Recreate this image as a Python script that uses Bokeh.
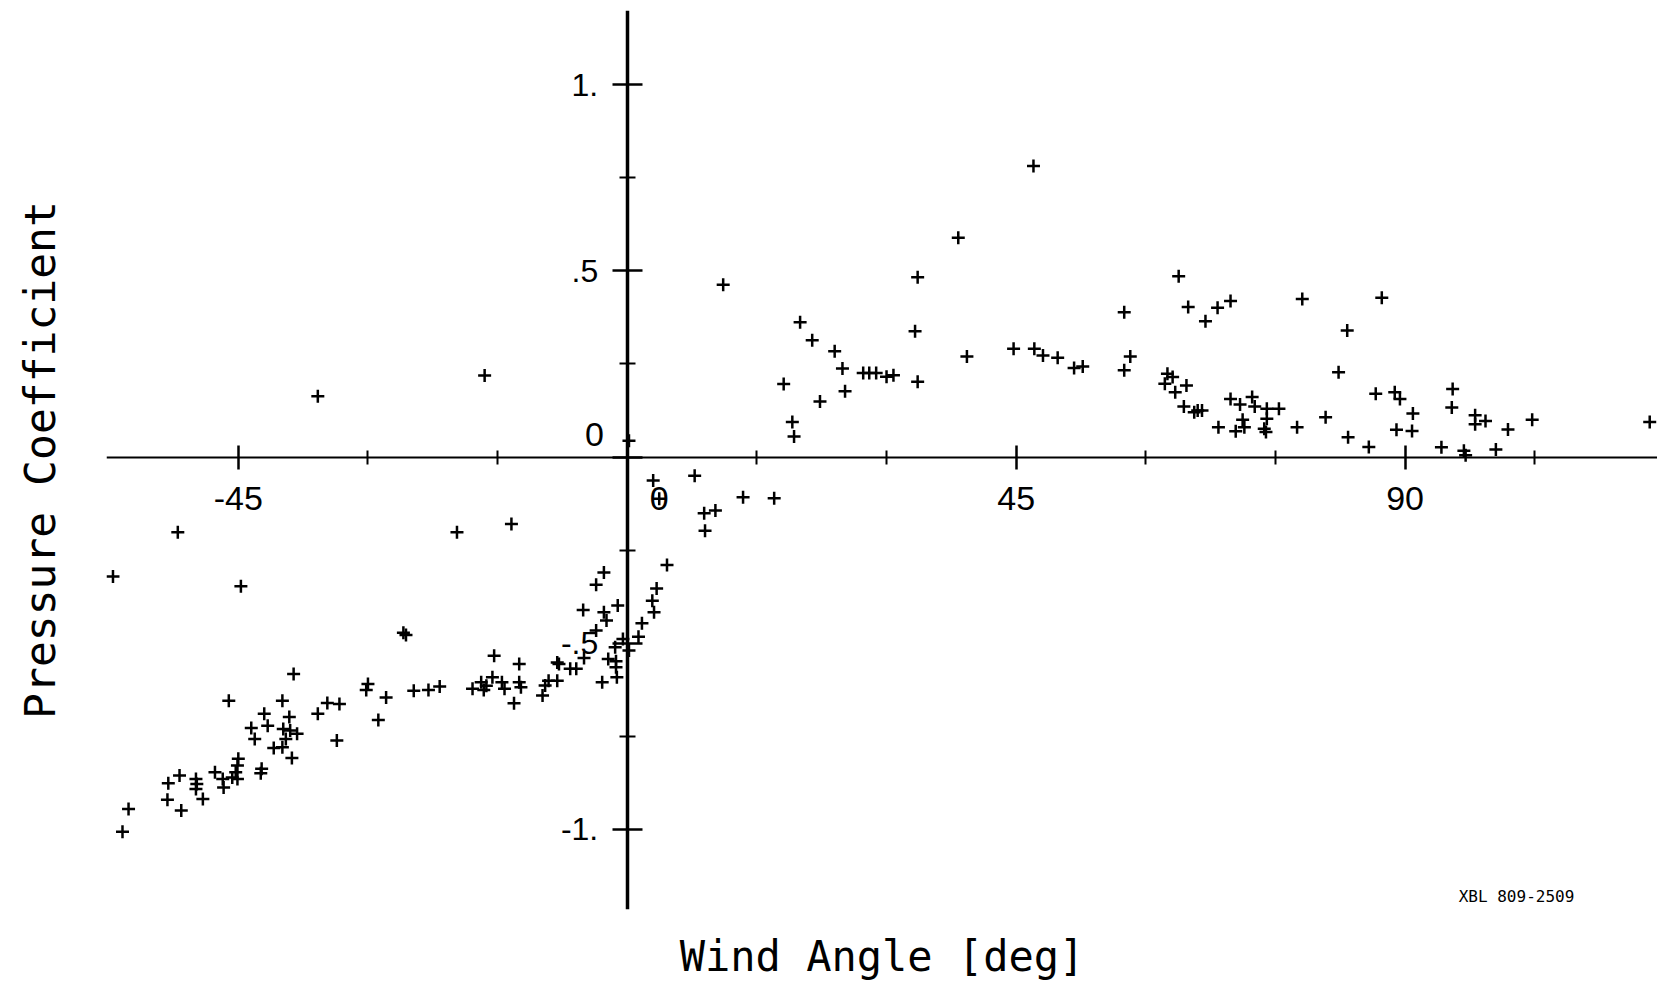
from bokeh.plotting import figure
from bokeh.models import Range1d, FixedTicker, LinearAxis, Label
from bokeh.embed import file_html
from bokeh.resources import INLINE

# ---- data (wind angle [deg], pressure coefficient) ----
wind_angle = [
    -59.5, -58.4, -57.7, -53.2, -53.1, -52.0, -51.8, -51.6, -49.9, -49.8,
    -49.9, -49.1, -47.7, -46.8, -46.7, -46.1, -45.7, -45.3, -45.1, -45.0,
    -45.1, -44.7, -43.5, -43.1, -42.4, -42.3, -42.0, -41.6, -40.9, -39.9,
    -39.9, -39.8, -39.5, -39.1, -39.0, -38.8, -38.6, -38.2, -35.8, -35.8,
    -34.7, -33.6, -33.3, -30.2, -30.0, -28.8, -27.9, -25.9, -25.6, -24.7,
    -23.0, -21.7, -19.7, -17.9, -16.9, -16.6, -16.3, -16.5, -15.6, -15.4,
    -14.5, -14.2, -13.4, -13.1, -12.5, -12.5, -12.3, -9.8, -9.5, -9.1,
    -8.1, -8.1, -7.9, -6.6, -5.9, -5.0, -5.1, -3.6, -3.6, -2.7,
    -2.7, -2.4, -2.9, -2.2, -1.4, -1.3, -1.3, -1.2, -1.1, -0.5,
    0.2, 0.2, 1.3, 1.7, 2.9, 3.1, 3.4, 3.0, 3.7, 4.6,
    7.8, 8.9, 10.2, 9.0, 13.4, 17.0,
    11.1, 18.1, 19.1, 19.3, 20.0, 21.4, 22.3, 24.0, 24.9, 25.2,
    27.3, 28.0, 28.8, 30.0, 30.8, 33.3, 33.6, 33.6, 38.3, 39.3,
    44.7, 47.0, 47.1, 48.1, 49.8, 51.7, 52.7, 57.5, 58.2, 57.5,
    62.2, 62.5, 63.1, 63.4, 63.8, 64.4, 64.7, 64.9, 65.6, 66.0,
    66.5, 66.9, 68.3, 68.4, 69.8, 69.8, 70.4, 70.9, 71.2, 71.4,
    72.3, 72.6, 73.7, 73.9, 74.0, 74.0, 75.4, 77.5, 78.1, 80.8,
    82.3, 83.3, 83.4, 85.8, 86.6, 87.3, 88.8, 89.4, 89.0, 90.8,
    90.9, 94.2, 95.5, 95.4, 96.8, 97.0, 98.1, 98.1, 99.3, 100.5,
    101.9, 104.7, 118.3,
]
pressure_coeff = [
    -0.321, -1.007, -0.946, -0.921, -0.877, -0.202, -0.856, -0.950, -0.865, -0.879,
    -0.892, -0.919, -0.847, -0.865, -0.888, -0.655, -0.861, -0.847, -0.829, -0.811,
    -0.865, -0.347, -0.728, -0.758, -0.850, -0.838, -0.690, -0.722, -0.782, -0.655,
    -0.780, -0.731, -0.758, -0.699, -0.735, -0.809, -0.583, -0.744, 0.163, -0.690,
    -0.661, -0.762, -0.664, -0.626, -0.610, -0.707, -0.646, -0.472, -0.478, -0.628,
    -0.626, -0.617, -0.202, -0.623, -0.605, -0.626, -0.615, 0.219, -0.592, -0.534,
    -0.605, -0.623, -0.180, -0.662, -0.556, -0.605, -0.619, -0.641, -0.614, -0.601,
    -0.601, -0.552, -0.556, -0.569, -0.569, -0.540, -0.411, -0.466, -0.343, -0.310,
    -0.417, -0.439, -0.605, -0.543, -0.511, -0.549, -0.565, -0.592, -0.399, -0.489,
    -0.520, 0.044, -0.483, -0.447, -0.386, -0.417, -0.353, -0.063, -0.112, -0.290,
    -0.050, -0.151, -0.144, -0.198, -0.108, -0.111,
    0.463, 0.196, 0.094, 0.055, 0.362, 0.314, 0.149, 0.284, 0.238, 0.177,
    0.226, 0.226, 0.226, 0.216, 0.220, 0.338, 0.483, 0.202, 0.589, 0.270,
    0.291, 0.782, 0.291, 0.273, 0.267, 0.239, 0.243, 0.389, 0.270, 0.233,
    0.197, 0.224, 0.215, 0.174, 0.486, 0.136, 0.192, 0.403, 0.120, 0.125,
    0.125, 0.365, 0.401, 0.080, 0.419, 0.156, 0.069, 0.141, 0.100, 0.080,
    0.161, 0.136, 0.076, 0.067, 0.130, 0.103, 0.130, 0.080, 0.425, 0.107,
    0.228, 0.340, 0.053, 0.027, 0.170, 0.428, 0.174, 0.156, 0.073, 0.070,
    0.117, 0.026, 0.183, 0.133, 0.017, 0.005, 0.112, 0.088, 0.097, 0.020,
    0.074, 0.100, 0.094,
]

x_major_ticks = [-45, 0, 45, 90]
x_tick_labels = ["-45", "", "45", "90"]
x_minor_ticks = [-30, -15, 15, 30, 60, 75, 105]
y_major_ticks = [-1, -0.5, 0, 0.5, 1]
y_tick_labels = ["-1.", "-.5", "", ".5", "1."]
y_minor_ticks = [-0.75, -0.25, 0.25, 0.75]

x_title = "Wind Angle [deg]"
y_title = "Pressure Coefficient"
ref_code = "XBL 809-2509"

TITLE_FONT = "DejaVu Sans Mono"
TICK_FONT = "Liberation Sans"

p = figure(
    width=1657, height=986,
    x_range=Range1d(-60.25, 119.2), y_range=Range1d(-1.216, 1.200),
    output_backend="svg", toolbar_location=None,
    min_border_left=106, min_border_right=0, min_border_top=10, min_border_bottom=77,
    background_fill_color="white", border_fill_color="white",
)
p.outline_line_color = None
p.xgrid.visible = False
p.ygrid.visible = False

# ---- axes crossing at the origin ----
xa = p.xaxis[0]
xa.fixed_location = 0
xa.ticker = FixedTicker(ticks=x_major_ticks, minor_ticks=x_minor_ticks)
xa.major_label_overrides = {t: l for t, l in zip(x_major_ticks, x_tick_labels)}
xa.axis_line_width = 2
xa.axis_line_color = "black"
xa.major_tick_in = 12
xa.major_tick_out = 12
xa.minor_tick_in = 7
xa.minor_tick_out = 7
xa.major_tick_line_width = 2.5
xa.minor_tick_line_width = 2
xa.major_tick_line_color = "black"
xa.minor_tick_line_color = "black"
xa.major_label_standoff = 18
xa.major_label_text_font = TICK_FONT
xa.major_label_text_font_size = "34px"
xa.major_label_text_color = "black"

ya = p.yaxis[0]
ya.fixed_location = 0
ya.ticker = FixedTicker(ticks=y_major_ticks, minor_ticks=y_minor_ticks)
ya.major_label_overrides = {t: l for t, l in zip(y_major_ticks, y_tick_labels)}
ya.axis_line_width = 3.5
ya.axis_line_color = "black"
ya.major_tick_in = 15
ya.major_tick_out = 15
ya.minor_tick_in = 8
ya.minor_tick_out = 8
ya.major_tick_line_width = 2.5
ya.minor_tick_line_width = 2
ya.major_tick_line_color = "black"
ya.minor_tick_line_color = "black"
ya.major_label_standoff = 14
ya.major_label_text_font = TICK_FONT
ya.major_label_text_font_size = "32px"
ya.major_label_text_color = "black"

# the two "0" labels sit off the crossing point, as in the original
p.add_layout(Label(x=3.7, y=-0.112, text="0", text_align="center", text_baseline="middle",
                   text_font=TICK_FONT, text_font_size="34px", text_color="black"))
p.add_layout(Label(x=-3.8, y=0.060, text="0", text_align="center", text_baseline="middle",
                   text_font=TICK_FONT, text_font_size="34px", text_color="black"))

# ---- axis titles on the outer edges (label-only axes) ----
def title_axis(text, standoff, size):
    return LinearAxis(
        ticker=FixedTicker(ticks=[], minor_ticks=[]),
        axis_label=text, axis_label_standoff=standoff,
        axis_line_color=None, major_tick_line_color=None, minor_tick_line_color=None,
        major_tick_in=0, major_tick_out=0, minor_tick_in=0, minor_tick_out=0,
        axis_label_text_font=TITLE_FONT, axis_label_text_font_size=size,
        axis_label_text_font_style="normal", axis_label_text_color="black",
    )

p.add_layout(title_axis(y_title, 42, "43px"), "left")
p.add_layout(title_axis(x_title, 22, "42px"), "below")

# plate number in the empty lower-right corner
p.add_layout(Label(x=96.2, y=-1.207, text=ref_code, text_align="left", text_baseline="bottom",
                   text_font=TITLE_FONT, text_font_size="16px", text_color="black"))

# ---- data ----
p.scatter(wind_angle, pressure_coeff, marker="cross", size=13, line_width=2.5,
          line_color="black")

open("out.html", "w").write(file_html(p, INLINE))
